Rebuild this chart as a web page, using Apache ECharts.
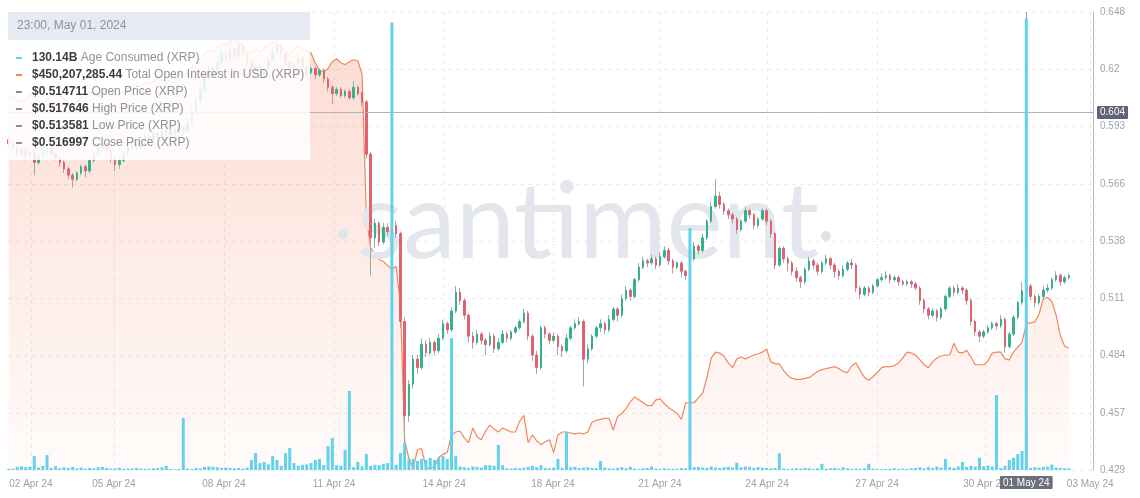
<!DOCTYPE html>
<html><head><meta charset="utf-8">
<script src="https://cdn.jsdelivr.net/npm/echarts@6/dist/echarts.min.js"></script>
<style>html,body{margin:0;padding:0;background:#fff}#c{width:1140px;height:498px}</style>
</head><body><div id="c"></div>
<script>
// ---------- DATA ----------
const START_UTC = Date.UTC(2024, 3, 2, 2, 0);   // first 3-hour candle: 02 Apr 2024 02:00
const STEP_HOURS = 3;

// XRP price candles [open, close, low, high]
const candles = [
[0.587,0.585,0.583,0.589],[0.585,0.583,0.582,0.587],[0.583,0.580,0.578,0.584],[0.580,0.582,0.579,0.584],[0.582,0.579,0.577,0.583],[0.579,0.581,0.578,0.583],[0.581,0.576,0.570,0.582],[0.576,0.579,0.575,0.580],[0.579,0.581,0.578,0.583],[0.581,0.583,0.580,0.585],
[0.583,0.580,0.579,0.584],[0.580,0.578,0.577,0.581],[0.578,0.576,0.574,0.579],[0.576,0.573,0.571,0.577],[0.573,0.570,0.568,0.574],[0.570,0.568,0.564,0.571],[0.568,0.571,0.567,0.572],[0.571,0.574,0.570,0.575],[0.574,0.572,0.569,0.575],[0.572,0.577,0.571,0.578],
[0.577,0.580,0.576,0.581],[0.580,0.583,0.579,0.585],[0.583,0.585,0.582,0.587],[0.585,0.582,0.580,0.586],[0.582,0.578,0.576,0.583],[0.578,0.575,0.572,0.579],[0.575,0.577,0.573,0.578],[0.577,0.580,0.576,0.581],[0.580,0.583,0.579,0.584],[0.583,0.585,0.582,0.587],
[0.585,0.583,0.581,0.586],[0.583,0.586,0.582,0.587],[0.586,0.589,0.585,0.590],[0.589,0.587,0.585,0.590],[0.587,0.590,0.586,0.591],[0.590,0.588,0.586,0.591],[0.588,0.591,0.587,0.593],[0.591,0.589,0.587,0.592],[0.589,0.592,0.588,0.593],[0.592,0.590,0.588,0.593],
[0.590,0.593,0.589,0.595],[0.593,0.591,0.589,0.594],[0.591,0.595,0.590,0.597],[0.595,0.600,0.594,0.602],[0.600,0.606,0.599,0.608],[0.606,0.611,0.604,0.613],[0.611,0.616,0.609,0.618],[0.616,0.621,0.614,0.623],[0.621,0.618,0.616,0.622],[0.618,0.624,0.617,0.626],
[0.624,0.628,0.622,0.630],[0.628,0.625,0.623,0.629],[0.625,0.630,0.624,0.633],[0.630,0.627,0.625,0.631],[0.627,0.632,0.626,0.635],[0.632,0.628,0.626,0.633],[0.628,0.624,0.622,0.629],[0.624,0.620,0.618,0.625],[0.620,0.622,0.619,0.624],[0.622,0.618,0.616,0.623],
[0.618,0.621,0.617,0.622],[0.621,0.625,0.620,0.626],[0.625,0.629,0.624,0.631],[0.629,0.632,0.628,0.634],[0.632,0.628,0.626,0.633],[0.628,0.624,0.622,0.629],[0.624,0.620,0.618,0.625],[0.620,0.623,0.619,0.624],[0.623,0.626,0.622,0.628],[0.626,0.622,0.620,0.627],
[0.622,0.619,0.617,0.623],[0.619,0.621,0.618,0.622],[0.621,0.618,0.616,0.622],[0.618,0.620,0.617,0.621],[0.620,0.616,0.614,0.621],[0.616,0.612,0.610,0.617],[0.612,0.609,0.604,0.613],[0.609,0.611,0.608,0.612],[0.611,0.608,0.607,0.612],[0.608,0.610,0.607,0.611],
[0.610,0.607,0.606,0.611],[0.607,0.612,0.606,0.615],[0.612,0.609,0.608,0.613],[0.609,0.605,0.603,0.610],[0.605,0.580,0.578,0.606],[0.580,0.540,0.522,0.581],[0.540,0.547,0.535,0.549],[0.547,0.538,0.536,0.548],[0.538,0.545,0.537,0.547],[0.545,0.543,0.541,0.547],
[0.543,0.546,0.542,0.548],[0.546,0.542,0.540,0.548],[0.542,0.500,0.497,0.543],[0.500,0.455,0.439,0.502],[0.455,0.470,0.452,0.472],[0.470,0.482,0.468,0.484],[0.482,0.478,0.475,0.484],[0.478,0.489,0.477,0.492],[0.489,0.485,0.483,0.491],[0.485,0.490,0.484,0.492],
[0.490,0.486,0.484,0.491],[0.486,0.492,0.485,0.494],[0.492,0.499,0.491,0.501],[0.499,0.496,0.494,0.500],[0.496,0.505,0.495,0.507],[0.505,0.514,0.504,0.517],[0.514,0.510,0.508,0.516],[0.510,0.503,0.501,0.511],[0.503,0.493,0.490,0.504],[0.493,0.490,0.487,0.495],
[0.490,0.494,0.489,0.496],[0.494,0.491,0.489,0.495],[0.491,0.489,0.484,0.492],[0.489,0.493,0.488,0.495],[0.493,0.487,0.485,0.494],[0.487,0.490,0.486,0.492],[0.490,0.494,0.489,0.496],[0.494,0.492,0.490,0.495],[0.492,0.495,0.491,0.496],[0.495,0.497,0.494,0.498],
[0.497,0.500,0.496,0.501],[0.500,0.504,0.499,0.506],[0.504,0.493,0.491,0.505],[0.493,0.484,0.481,0.494],[0.484,0.478,0.475,0.486],[0.478,0.497,0.477,0.498],[0.497,0.494,0.492,0.498],[0.494,0.491,0.489,0.495],[0.491,0.493,0.490,0.495],[0.493,0.488,0.484,0.494],
[0.488,0.486,0.483,0.489],[0.486,0.492,0.485,0.494],[0.492,0.497,0.491,0.498],[0.497,0.499,0.496,0.501],[0.499,0.500,0.498,0.502],[0.500,0.482,0.469,0.501],[0.482,0.487,0.480,0.489],[0.487,0.493,0.486,0.494],[0.493,0.497,0.492,0.498],[0.497,0.499,0.495,0.501],
[0.499,0.496,0.494,0.500],[0.496,0.501,0.495,0.503],[0.501,0.506,0.500,0.507],[0.506,0.503,0.500,0.507],[0.503,0.511,0.502,0.513],[0.511,0.515,0.510,0.517],[0.515,0.512,0.510,0.516],[0.512,0.520,0.511,0.521],[0.520,0.526,0.519,0.528],[0.526,0.529,0.525,0.531],
[0.529,0.528,0.526,0.530],[0.528,0.530,0.527,0.532],[0.530,0.527,0.525,0.531],[0.527,0.531,0.526,0.533],[0.531,0.534,0.530,0.536],[0.534,0.529,0.527,0.535],[0.529,0.526,0.523,0.530],[0.526,0.528,0.525,0.529],[0.528,0.524,0.521,0.529],[0.524,0.522,0.520,0.525],
[0.522,0.530,0.521,0.531],[0.530,0.536,0.529,0.538],[0.536,0.534,0.532,0.537],[0.534,0.540,0.533,0.542],[0.540,0.548,0.539,0.549],[0.548,0.555,0.547,0.557],[0.555,0.560,0.554,0.568],[0.560,0.556,0.554,0.562],[0.556,0.553,0.551,0.557],[0.553,0.551,0.549,0.554],
[0.551,0.549,0.547,0.552],[0.549,0.544,0.542,0.550],[0.544,0.548,0.543,0.549],[0.548,0.553,0.547,0.555],[0.553,0.551,0.549,0.554],[0.551,0.546,0.544,0.552],[0.546,0.549,0.545,0.550],[0.549,0.553,0.548,0.554],[0.553,0.548,0.546,0.554],[0.548,0.542,0.540,0.549],
[0.542,0.527,0.525,0.543],[0.527,0.535,0.526,0.536],[0.535,0.530,0.528,0.536],[0.530,0.528,0.524,0.531],[0.528,0.524,0.522,0.529],[0.524,0.521,0.519,0.526],[0.521,0.519,0.516,0.522],[0.519,0.525,0.518,0.526],[0.525,0.529,0.524,0.531],[0.529,0.527,0.525,0.530],
[0.527,0.524,0.522,0.528],[0.524,0.528,0.523,0.529],[0.528,0.530,0.527,0.532],[0.530,0.527,0.525,0.531],[0.527,0.524,0.521,0.528],[0.524,0.522,0.520,0.525],[0.522,0.525,0.521,0.527],[0.525,0.528,0.524,0.529],[0.528,0.527,0.525,0.530],[0.527,0.516,0.514,0.528],
[0.516,0.513,0.511,0.517],[0.513,0.516,0.512,0.517],[0.516,0.514,0.512,0.517],[0.514,0.517,0.513,0.518],[0.517,0.520,0.516,0.521],[0.520,0.521,0.519,0.523],[0.521,0.522,0.520,0.524],[0.522,0.520,0.518,0.523],[0.520,0.521,0.519,0.522],[0.521,0.519,0.517,0.522],
[0.519,0.518,0.517,0.520],[0.518,0.519,0.517,0.520],[0.519,0.518,0.516,0.520],[0.518,0.516,0.515,0.519],[0.516,0.510,0.508,0.517],[0.510,0.506,0.504,0.511],[0.506,0.503,0.501,0.507],[0.503,0.505,0.502,0.506],[0.505,0.502,0.500,0.506],[0.502,0.506,0.501,0.507],
[0.506,0.512,0.505,0.513],[0.512,0.516,0.511,0.517],[0.516,0.514,0.512,0.517],[0.514,0.516,0.513,0.518],[0.516,0.515,0.513,0.517],[0.515,0.510,0.508,0.516],[0.510,0.500,0.498,0.511],[0.500,0.495,0.493,0.501],[0.495,0.493,0.490,0.496],[0.493,0.495,0.492,0.496],
[0.495,0.497,0.494,0.498],[0.497,0.499,0.496,0.500],[0.499,0.498,0.496,0.500],[0.498,0.501,0.497,0.503],[0.501,0.488,0.485,0.502],[0.488,0.494,0.487,0.495],[0.494,0.502,0.493,0.503],[0.502,0.509,0.501,0.510],[0.509,0.5147,0.508,0.519],[0.514711,0.516997,0.513581,0.517646],
[0.517,0.512,0.510,0.518],[0.512,0.509,0.507,0.513],[0.509,0.512,0.508,0.513],[0.512,0.515,0.511,0.517],[0.515,0.516,0.514,0.518],[0.516,0.520,0.515,0.521],[0.520,0.522,0.519,0.524],[0.522,0.519,0.517,0.523],[0.519,0.521,0.518,0.522],[0.521,0.522,0.520,0.523]
];

// Total Open Interest in USD, millions
const openInterestUsdM = [
682,684,680,678,681,685,683,679,676,680,
683,686,684,681,677,674,678,682,685,688,
686,683,687,690,688,684,686,689,692,694,
691,695,698,696,699,702,700,697,701,704,
707,705,709,713,718,722,727,731,729,734,
738,736,740,742,739,735,731,728,732,729,
733,737,740,738,734,730,727,731,735,732,
730,728,718,710,709,712,719,722,718,716,
719,721,720,706,560,528,522,516,514,510,
506,509,470,330,312,302,321,322,302,302,
303,313,316,318,336,339,340,333,328,343,
334,331,340,346,342,339,343,341,339,339,
350,356,328,336,330,326,329,331,318,336,
339,339,338,337,338,337,339,349,351,352,
353,353,341,355,358,363,370,375,372,369,
366,366,372,373,368,364,361,358,352,369,
369,369,374,379,395,415,421,420,417,410,
405,414,416,414,416,418,419,421,424,411,
409,409,402,397,394,393,393,394,395,398,
401,403,404,405,406,404,401,400,407,410,
402,395,392,396,400,405,406,406,407,410,
415,421,420,418,413,408,405,411,415,417,
418,418,430,421,420,423,416,408,408,408,
412,420,421,421,414,413,421,426,431,450.20728544,
451,452,460,476,477,473,459,438,427,425
];

// Age Consumed, billions
const ageConsumedB = [
0.3,0.4,0.9,1.0,0.8,0.9,4.0,0.7,1.2,4.3,
0.6,1.1,0.5,0.8,0.6,0.9,0.5,0.7,0.4,0.6,
0.5,0.8,0.9,0.6,0.4,0.5,0.7,0.3,0.4,0.5,
0.6,0.4,0.3,0.4,0.5,0.6,0.8,1.2,0.3,0.2,
0.3,15.0,0.4,0.3,0.6,0.5,0.9,1.0,0.9,0.8,
0.6,0.7,0.6,0.5,0.6,0.4,0.7,2.9,4.9,2.0,
2.3,1.6,4.0,2.9,1.2,4.9,6.3,2.0,1.2,1.5,
1.6,2.0,2.9,3.2,1.4,6.9,9.2,1.4,1.2,5.8,
22.8,0.8,2.3,1.0,4.6,1.2,1.5,1.4,1.8,2.0,
129.0,1.5,4.9,7.8,3.2,3.2,2.6,3.2,2.9,3.5,
2.9,3.5,4.0,3.2,38.0,4.0,1.0,0.8,0.6,1.0,
0.9,0.7,1.4,1.4,1.2,7.2,1.4,0.5,0.4,0.6,
0.5,0.7,0.9,1.2,0.8,1.4,0.6,0.5,0.7,3.2,
0.6,11.0,0.8,0.9,0.6,0.7,0.8,0.6,0.5,2.6,
0.7,0.5,0.4,0.6,0.8,0.5,0.9,0.4,0.3,0.5,
0.6,1.0,0.4,0.3,0.5,0.4,0.3,0.4,0.6,0.5,
69.7,0.8,0.9,0.7,0.6,1.0,0.7,0.6,0.8,0.9,
0.7,2.1,0.8,1.0,0.9,0.6,0.8,0.7,0.6,0.5,
0.6,4.8,0.4,0.3,0.4,0.5,0.4,0.6,0.5,0.3,
0.5,1.8,0.4,0.5,0.6,0.4,0.8,0.5,0.3,0.4,
0.3,0.5,1.8,0.4,0.3,0.2,0.3,0.4,0.5,0.3,
0.4,0.3,0.5,0.6,0.8,0.5,0.9,0.6,1.0,0.7,
3.2,0.8,0.6,1.0,2.3,0.9,1.2,1.0,3.5,1.1,
1.3,1.0,21.6,0.6,1.2,2.9,3.5,4.6,5.5,130.14,
0.6,0.8,0.7,0.9,1.0,1.6,0.7,0.6,0.5,0.5
];

const priceTickLabels = ['0.429','0.457','0.484','0.511','0.538','0.566','0.593','0.62','0.648'];
const xTickTimes = ['2024-04-02T17:40:00Z','2024-04-05T04:10:00Z','2024-04-08T09:40:00Z','2024-04-11T15:15:00Z','2024-04-14T20:45:00Z','2024-04-18T01:30:00Z','2024-04-21T04:50:00Z','2024-04-24T08:20:00Z','2024-04-27T13:50:00Z','2024-04-30T17:50:00Z','2024-05-03T20:00:00Z'];
const xTickLabels = ['02 Apr 24','05 Apr 24','08 Apr 24','11 Apr 24','14 Apr 24','18 Apr 24','21 Apr 24','24 Apr 24','27 Apr 24','30 Apr 24','03 May 24'];
const xRange = ['2024-04-02T01:30:00Z','2024-05-03T22:00:00Z'];
const priceRange = [0.429, 0.648];
const oiRange = [300, 770];
const ageRange = [0, 132];

const hoverTime = '2024-05-01T23:00:00Z';
const hoverIndex = 239;
const hoverHeader = '23:00, May 01, 2024';
const hoverDateLabel = '01 May 24';
const hoverPrice = 0.604;
const lastPrice = 0.522;
const rowNames = ['Age Consumed (XRP)','Total Open Interest in USD (XRP)','Open Price (XRP)','High Price (XRP)','Low Price (XRP)','Close Price (XRP)'];

// ---------- BUILD ----------
const times = candles.map((_, i) => START_UTC + i * STEP_HOURS * 3600000);
const tickTs = xTickTimes.map(s => Date.parse(s));
const labelFor = v => { for (let i = 0; i < tickTs.length; i++) if (Math.abs(tickTs[i] - v) < 60000) return xTickLabels[i]; return ''; };

const hc = candles[hoverIndex];
const rowValues = [
  ageConsumedB[hoverIndex].toFixed(2) + 'B',
  '$' + (openInterestUsdM[hoverIndex] * 1e6).toLocaleString('en-US', {minimumFractionDigits: 2, maximumFractionDigits: 2}),
  '$' + hc[0].toFixed(6), '$' + hc[3].toFixed(6), '$' + hc[2].toFixed(6), '$' + hc[1].toFixed(6)
];
const rowColors = ['#5fd3ea', '#f0895f', '#8d8d8d', '#8d8d8d', '#8d8d8d', '#8d8d8d'];

const FONT = 'Liberation Sans, Arial, sans-serif';
const UP = '#31b38d', DOWN = '#e0636d', WICK = '#a2a5ab';

const graphics = [];
graphics.push({type: 'circle', z: 2, silent: true, shape: {cx: 343, cy: 234, r: 5}, style: {fill: '#e0e3e9'}});
graphics.push({type: 'circle', z: 2, silent: true, shape: {cx: 826, cy: 236, r: 5}, style: {fill: '#e0e3e9'}});
graphics.push({type: 'text', z: 2, silent: true, style: {text: 'santiment', x: 588, y: 224, align: 'center', verticalAlign: 'middle', fontSize: 106, fontFamily: 'Lato', fontWeight: 400, fill: '#e3e6ec'}});
graphics.push({type: 'rect', z: 100, silent: true, shape: {x: 8, y: 12, width: 302, height: 28}, style: {fill: 'rgba(229,233,241,0.96)'}});
graphics.push({type: 'rect', z: 100, silent: true, shape: {x: 8, y: 40, width: 302, height: 120}, style: {fill: 'rgba(255,255,255,0.86)'}});
graphics.push({type: 'text', z: 101, silent: true, style: {text: hoverHeader, x: 17, y: 26, verticalAlign: 'middle', fontSize: 12, fontFamily: FONT, fill: '#8d929c'}});
rowNames.forEach((name, i) => {
  const cy = 58 + i * 17;
  graphics.push({type: 'rect', z: 101, silent: true, shape: {x: 16, y: cy - 1, width: 6, height: 2}, style: {fill: rowColors[i]}});
  graphics.push({type: 'text', z: 101, silent: true, style: {
    text: '{v|' + rowValues[i] + '} {l|' + name + '}', x: 32, y: cy, verticalAlign: 'middle',
    fontSize: 12, fontFamily: FONT, fill: '#8d929c',
    rich: {v: {fontSize: 12, fontFamily: FONT, fontWeight: 'bold', fill: '#3a3d44'}, l: {fontSize: 12, fontFamily: FONT, fill: '#8d929c'}}
  }});
});

const boxLabel = (txt, bg) => ({show: true, formatter: txt, backgroundColor: bg, color: '#fff', fontSize: 10, fontFamily: FONT, padding: [2, 3, 1, 3], borderRadius: 1});

const option = {
  animation: false,
  textStyle: {fontFamily: FONT},
  grid: {left: 8, right: 47, top: 12, bottom: 28, containLabel: false},
  xAxis: {
    type: 'value', min: Date.parse(xRange[0]), max: Date.parse(xRange[1]), scale: true,
    axisLine: {show: false}, axisTick: {show: false, customValues: tickTs},
    axisLabel: {customValues: tickTs, formatter: v => labelFor(v), color: '#9da1aa', fontSize: 10, margin: 9},
    splitLine: {show: true, lineStyle: {color: '#ebecf0', type: [4, 4]}}
  },
  yAxis: [
    {type: 'value', min: priceRange[0], max: priceRange[1], show: false},
    {type: 'value', min: 0, max: priceTickLabels.length - 1, interval: 1, position: 'right',
     axisLine: {show: true, lineStyle: {color: '#b8bbc3'}}, axisTick: {show: false},
     axisLabel: {formatter: v => priceTickLabels[v], color: '#a0a4ad', fontSize: 10, margin: 7},
     splitLine: {show: true, lineStyle: {color: '#ebecf0', type: [4, 4]}}},
    {type: 'value', min: oiRange[0], max: oiRange[1], show: false},
    {type: 'value', min: ageRange[0], max: ageRange[1], show: false}
  ],
  series: [
    {type: 'line', name: 'Total Open Interest in USD (XRP)', yAxisIndex: 2, z: 1, showSymbol: false, symbol: 'none',
     data: times.map((t, i) => [t, openInterestUsdM[i]]),
     lineStyle: {color: '#f0875d', width: 1.2},
     areaStyle: {color: {type: 'linear', x: 0, y: 12, x2: 0, y2: 470, global: true,
       colorStops: [{offset: 0, color: 'rgba(247,140,108,0.46)'}, {offset: 1, color: 'rgba(247,140,108,0.05)'}]}}},
    {type: 'candlestick', name: 'wicks', yAxisIndex: 0, z: 3, barWidth: 1,
     data: times.map((t, i) => [t].concat(candles[i])),
     itemStyle: {color: WICK, color0: WICK, borderColor: WICK, borderColor0: WICK, borderWidth: 1}},
    {type: 'candlestick', name: 'Price (XRP)', yAxisIndex: 0, z: 4, barWidth: 2,
     data: times.map((t, i) => { const [o, c] = candles[i]; return [t, o, c, Math.min(o, c), Math.max(o, c)]; }),
     itemStyle: {color: UP, color0: DOWN, borderColor: UP, borderColor0: DOWN, borderWidth: 1},
     markLine: {silent: true, symbol: ['none', 'none'], animation: false,
       data: [
         {xAxis: Date.parse(hoverTime), lineStyle: {color: '#9ea2ac', width: 1, type: 'solid'}, label: Object.assign(boxLabel(hoverDateLabel, '#6a6f7a'), {position: 'start', distance: 6})},
         {yAxis: hoverPrice, lineStyle: {color: '#aeb2bd', width: 1, type: 'solid'}, label: Object.assign(boxLabel(hoverPrice.toFixed(3), '#5e6376'), {position: 'end', distance: 4})},
         {yAxis: lastPrice, lineStyle: {width: 0, opacity: 0}, label: Object.assign(boxLabel(lastPrice.toFixed(3), '#7b7b7b'), {position: 'end', distance: 4})}
       ]}},
    {type: 'bar', name: 'Age Consumed (XRP)', yAxisIndex: 3, z: 5, barWidth: 3,
     data: times.map((t, i) => [t, ageConsumedB[i]]),
     itemStyle: {color: '#62d2ea'}}
  ],
  graphic: graphics
};

const chart = echarts.init(document.getElementById('c'), null, {renderer: 'canvas'});
chart.setOption(option);
</script>
</body></html>
